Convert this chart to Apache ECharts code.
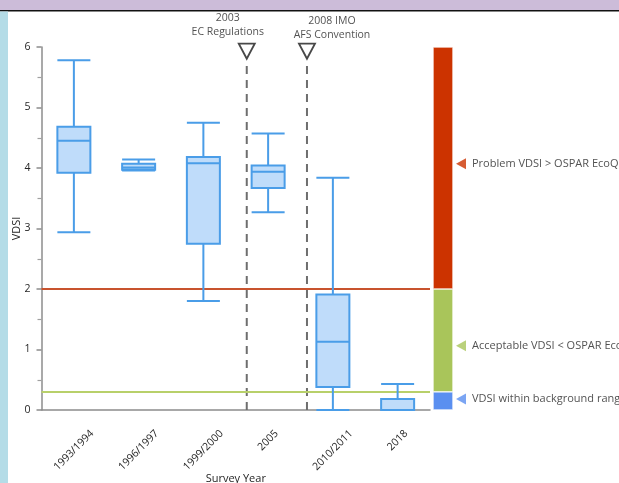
<!DOCTYPE html>
<html>
<head>
<meta charset="utf-8">
<script src="https://cdn.jsdelivr.net/npm/echarts@6/dist/echarts.min.js"></script>
<style>
  html, body { margin: 0; padding: 0; background: #fff; }
  #chart { width: 619px; height: 483px; }
</style>
</head>
<body>
<div id="chart"></div>
<script>
// Survey years on the category axis
const surveyYears = ['1993/1994', '1996/1997', '1999/2000', '2005', '2010/2011', '2018'];
// VDSI box statistics per survey
const vdsiMin    = [2.94, 3.96, 1.80, 3.27, 0.00, 0.00];
const vdsiQ1     = [3.92, 3.97, 2.75, 3.67, 0.38, 0.00];
const vdsiMedian = [4.45, 4.01, 4.08, 3.94, 1.13, 0.00];
const vdsiQ3     = [4.68, 4.07, 4.18, 4.04, 1.91, 0.18];
const vdsiMax    = [5.78, 4.14, 4.75, 4.57, 3.84, 0.43];
// Y axis range / tick step
const yTicks = [0, 1, 2, 3, 4, 5, 6];
// Threshold lines
const ecoQO = 2;
const backgroundLevel = 0.3;
// Regulatory events, placed on the survey axis (category index units)
const eventPos = [2.67, 3.6];
const eventLabels = ['2003\nEC Regulations', '2008 IMO\nAFS Convention'];
// Assessment zones (lower bound → upper bound)
const zoneBounds = [0, 0.3, 2, 6];
const zoneNames = ['VDSI within background range', 'Acceptable VDSI < OSPAR EcoQO', 'Problem VDSI > OSPAR EcoQO'];
const zoneLabelAt = [0.18, 1.06, 4.07];
const zoneColors = ['#5a8ff0', '#a9c55a', '#cc3300'];

const FONT = 'Open Sans';
const TEXT = '#262626';
const TICK_FONT_SIZE = 10.5;

const boxData = surveyYears.map((_, i) => [vdsiMin[i], vdsiQ1[i], vdsiMedian[i], vdsiQ3[i], vdsiMax[i]]);

// Rotated year labels are centred under their tick: pad each label on the
// right and top by half its width so the rotation pivot sits at the text's end.
const measure = document.createElement('canvas').getContext('2d');
measure.font = TICK_FONT_SIZE + 'px "' + FONT + '"';
const yearRich = {};
surveyYears.forEach((y, i) => {
  const half = measure.measureText(y).width / 2;
  yearRich['y' + i] = {
    fontFamily: FONT, fontSize: TICK_FONT_SIZE, color: TEXT,
    padding: [half, half, 0, 0]
  };
});

const series = [];

series.push({
  type: 'boxplot',
  xAxisIndex: 0, yAxisIndex: 0,
  data: boxData,
  boxWidth: [33, 33],
  itemStyle: { color: '#bfdcfa', borderColor: '#4a9de8', borderWidth: 2 },
  emphasis: { disabled: true },
  z: 3,
  markLine: {
    silent: true,
    symbol: 'none',
    label: { show: false },
    z: 2,
    data: [
      { yAxis: ecoQO, lineStyle: { color: '#c8532e', width: 2, type: 'solid' } },
      { yAxis: backgroundLevel, lineStyle: { color: '#b8d06a', width: 2, type: 'solid' } }
    ]
  }
});

// Dashed markers for the regulatory events
eventPos.forEach((p, i) => {
  series.push({
    type: 'line',
    xAxisIndex: 1, yAxisIndex: 0,
    data: [[p, 0], [p, 5.78]],
    symbol: 'none',
    silent: true,
    lineStyle: { color: '#6e6e6e', width: 2, type: [8, 6] },
    z: 1
  });
  series.push({
    type: 'scatter',
    xAxisIndex: 1, yAxisIndex: 0,
    data: [[p, 5.93]],
    symbol: 'path://M0,0 L20,0 L10,18 Z',
    symbolSize: [16, 15],
    clip: false,
    silent: true,
    itemStyle: { color: '#fff', borderColor: '#1a1a1a', borderWidth: 1.8 },
    label: {
      show: true,
      position: 'top',
      distance: 4,
      offset: [i === 0 ? -19 : 25, i === 0 ? 0 : 3],
      formatter: eventLabels[i],
      fontFamily: FONT, fontSize: 10.5, lineHeight: 14, color: TEXT
    },
    z: 5
  });
});

// Stacked colour scale for the assessment zones
zoneNames.forEach((name, i) => {
  series.push({
    type: 'bar',
    xAxisIndex: 2, yAxisIndex: 1,
    stack: 'zones',
    data: [zoneBounds[i + 1] - zoneBounds[i]],
    barWidth: '100%',
    silent: true,
    itemStyle: { color: zoneColors[i], borderColor: '#fff', borderWidth: 0.6 }
  });
  series.push({
    type: 'scatter',
    xAxisIndex: 2, yAxisIndex: 1,
    data: [['zone', zoneLabelAt[i]]],
    symbol: 'triangle',
    symbolRotate: 90,
    symbolSize: [11, 10],
    symbolOffset: [18, 0],
    clip: false,
    silent: true,
    itemStyle: { color: zoneColors[i] },
    label: {
      show: true,
      position: 'right',
      distance: 6,
      formatter: name,
      fontFamily: FONT, fontSize: 11, color: TEXT
    },
    z: 5
  });
});

const chart = echarts.init(document.getElementById('chart'), null, { renderer: 'canvas' });
chart.setOption({
  animation: false,
  backgroundColor: '#fff',
  textStyle: { fontFamily: FONT },
  graphic: [
    { type: 'rect', left: 0, top: 0, shape: { width: 619, height: 10 }, style: { fill: '#ccbcd9' }, z: -1 },
    { type: 'rect', left: 0, top: 10, shape: { width: 619, height: 1.5 }, style: { fill: '#111' }, z: -1 },
    { type: 'rect', left: 0, top: 11.5, shape: { width: 8, height: 472 }, style: { fill: '#b4dce7' }, z: -1 }
  ],
  grid: [
    { left: 41.5, right: 189, top: 47, bottom: 73, outerBoundsMode: 'none', containLabel: false },
    { left: 433, width: 20, top: 47, bottom: 73, outerBoundsMode: 'none', containLabel: false }
  ],
  xAxis: [
    {
      type: 'category', gridIndex: 0,
      data: surveyYears,
      axisLine: { onZero: false, lineStyle: { color: '#8c8c8c', width: 1.5 } },
      axisTick: { alignWithLabel: true, length: 5, lineStyle: { color: '#8c8c8c', width: 1.5 } },
      axisLabel: {
        rotate: 45, align: 'center', verticalAlign: 'middle',
        margin: 22, interval: 0,
        formatter: (v, i) => '{y' + i + '|' + v + '}',
        rich: yearRich
      },
      name: 'Survey Year',
      nameLocation: 'middle',
      nameGap: 63,
      nameMoveOverlap: false,
      nameTextStyle: { fontSize: 11, color: TEXT, verticalAlign: 'top' }
    },
    { type: 'value', gridIndex: 0, min: -0.5, max: 5.5, show: false },
    { type: 'category', gridIndex: 1, data: ['zone'], show: false }
  ],
  yAxis: [
    {
      type: 'value', gridIndex: 0,
      min: yTicks[0], max: yTicks[yTicks.length - 1], interval: 1,
      axisLine: { show: true, onZero: false, lineStyle: { color: '#8c8c8c', width: 1.5 } },
      axisTick: { show: true, length: 5, lineStyle: { color: '#8c8c8c', width: 1.5 } },
      minorTick: { show: true, splitNumber: 2, length: 4, lineStyle: { color: '#a0a0a0', width: 1.2 } },
      splitLine: { show: false },
      axisLabel: { fontSize: 10.5, color: TEXT, margin: 11 },
      name: 'VDSI',
      nameLocation: 'middle',
      nameRotate: 90,
      nameGap: 19,
      nameMoveOverlap: false,
      nameTextStyle: { fontSize: 11, color: TEXT }
    },
    { type: 'value', gridIndex: 1, min: 0, max: 6, show: false }
  ],
  series
});
</script>
</body>
</html>
